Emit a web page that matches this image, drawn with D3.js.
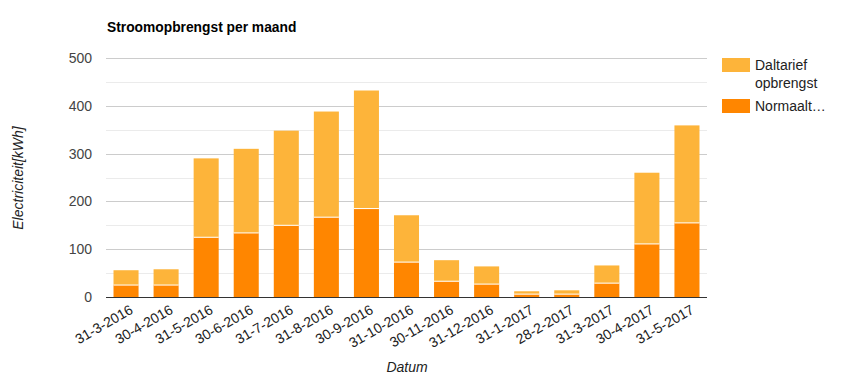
<!DOCTYPE html>
<html><head><meta charset="utf-8">
<script src="https://cdn.jsdelivr.net/npm/d3@7"></script>
<style>body{margin:0;background:#fff;}svg{display:block;font-family:Arial,"Liberation Sans",sans-serif;}</style>
</head><body><svg id="c" width="851" height="383"></svg>
<script>
const categories = ["31-3-2016","30-4-2016","31-5-2016","30-6-2016","31-7-2016","31-8-2016","30-9-2016","31-10-2016","30-11-2016","31-12-2016","31-1-2017","28-2-2017","31-3-2017","30-4-2017","31-5-2017"];
const normaal = [25,25,125,134,150,167,185,73,33,27,6,6,29,111,155];
const daltarief = [31,33,165,176,198,221,247,98,44,37,6,8,37,149,204];
const yTicks = [0,100,200,300,400,500];
const seriesNames = ["Daltarief opbrengst","Normaaltarief opbrengst"];
const colors = {dal:"#fdb43a", norm:"#ff8600"};

const svg = d3.select("#c");
const m = {l:106, r:707, t:58, b:297};
const x = d3.scaleBand().domain(categories).range([m.l, m.r]).paddingInner(0.375).paddingOuter(0.1875);
const y = d3.scaleLinear().domain([0,500]).range([m.b, m.t]);

// minor gridlines
const minor = d3.range(50, 500, 100);
svg.append("g").selectAll("line").data(minor).join("line")
  .attr("x1", m.l).attr("x2", m.r).attr("y1", d=>Math.round(y(d))+0.5).attr("y2", d=>Math.round(y(d))+0.5)
  .attr("stroke", "#ebebeb");
svg.append("g").selectAll("line").data(yTicks.filter(d=>d>0)).join("line")
  .attr("x1", m.l).attr("x2", m.r).attr("y1", d=>Math.round(y(d))+0.5).attr("y2", d=>Math.round(y(d))+0.5)
  .attr("stroke", "#cccccc");

// y labels
svg.append("g").selectAll("text").data(yTicks).join("text")
  .attr("x", 92).attr("y", d=>y(d)+5).attr("text-anchor","end")
  .attr("font-size", 14).attr("fill","#444").text(d=>d);

// bars
const data = categories.map((c,i)=>({c, n:normaal[i], d:daltarief[i]}));
const g = svg.append("g");
g.selectAll("rect.n").data(data).join("rect").attr("class","n")
  .attr("x", d=>x(d.c)).attr("width", x.bandwidth())
  .attr("y", d=>y(d.n)).attr("height", d=>y(0)-y(d.n)).attr("fill", colors.norm);
g.selectAll("rect.d").data(data).join("rect").attr("class","d")
  .attr("x", d=>x(d.c)).attr("width", x.bandwidth())
  .attr("y", d=>y(d.n+d.d)).attr("height", d=>y(d.n)-y(d.n+d.d)).attr("fill", colors.dal);
g.selectAll("line.sep").data(data).join("line").attr("class","sep")
  .attr("x1", d=>x(d.c)).attr("x2", d=>x(d.c)+x.bandwidth())
  .attr("y1", d=>y(d.n)).attr("y2", d=>y(d.n)).attr("stroke","#fff").attr("stroke-width",1);

// baseline
svg.append("line").attr("x1", m.l).attr("x2", m.r).attr("y1", y(0)+0.5).attr("y2", y(0)+0.5)
  .attr("stroke","#333").attr("stroke-width",1);

// x labels
svg.append("g").selectAll("text").data(categories).join("text")
  .attr("transform", d=>`translate(${x(d)+x.bandwidth()/2+3},${y(0)+7}) rotate(-30)`)
  .attr("text-anchor","end").attr("dy","0.7em")
  .attr("font-size", 14).attr("fill","#222").text(d=>d);

// title
svg.append("text").attr("x",107).attr("y",32).attr("font-size",13.8).attr("font-weight","bold").attr("fill","#000")
  .text("Stroomopbrengst per maand");

// axis titles
svg.append("text").attr("x",407).attr("y",372).attr("text-anchor","middle").attr("font-size",14)
  .attr("font-style","italic").attr("fill","#222").text("Datum");
svg.append("text").attr("transform","translate(23,178) rotate(-90)").attr("text-anchor","middle").attr("font-size",14)
  .attr("font-style","italic").attr("fill","#222").text("Electriciteit[kWh]");

// legend
const lg = svg.append("g");
lg.append("rect").attr("x",722).attr("y",58).attr("width",28).attr("height",14).attr("fill",colors.dal);
lg.append("text").attr("x",755).attr("y",70).attr("font-size",14).attr("fill","#222").text("Daltarief");
lg.append("text").attr("x",755).attr("y",88).attr("font-size",14).attr("fill","#222").text("opbrengst");
lg.append("rect").attr("x",722).attr("y",99).attr("width",28).attr("height",14).attr("fill",colors.norm);
lg.append("text").attr("x",755).attr("y",111).attr("font-size",14).attr("fill","#222").text("Normaalt…");
</script></body></html>
